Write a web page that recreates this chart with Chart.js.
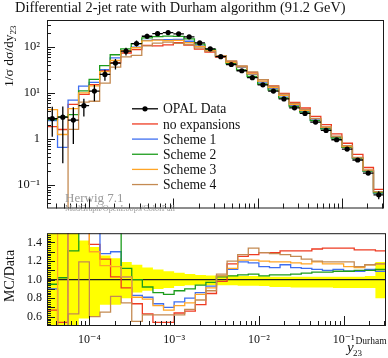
<!DOCTYPE html>
<html>
<head>
<meta charset="utf-8">
<script src="https://cdn.jsdelivr.net/npm/chart.js@4.4.1/dist/chart.umd.min.js"></script>
<style>
    html, body { margin: 0; padding: 0; background: #fff; }
    body { width: 388px; height: 358px; position: relative; overflow: hidden; }
    canvas { position: absolute; left: 0; }
    #mainCanvas { top: 0; }
    #ratioCanvas { top: 221px; }
</style>
</head>
<body>
<canvas id="mainCanvas" width="388" height="223"></canvas>
<canvas id="ratioCanvas" width="388" height="137"></canvas>
<script>
// bin edges of y23 (8 bins per decade, 10^-4.5 .. 10^-0.5)
const binEdges = [
    3.1623e-5, 4.2170e-5, 5.6234e-5, 7.4989e-5,
    1.0e-4, 1.3335e-4, 1.7783e-4, 2.3714e-4, 3.1623e-4, 4.2170e-4, 5.6234e-4, 7.4989e-4,
    1.0e-3, 1.3335e-3, 1.7783e-3, 2.3714e-3, 3.1623e-3, 4.2170e-3, 5.6234e-3, 7.4989e-3,
    1.0e-2, 1.3335e-2, 1.7783e-2, 2.3714e-2, 3.1623e-2, 4.2170e-2, 5.6234e-2, 7.4989e-2,
    1.0e-1, 1.3335e-1, 1.7783e-1, 2.3714e-1, 3.1623e-1
];

// OPAL data, 1/sigma dsigma/dy23
const opalData = [2.8, 3.0, 2.6, 5.35, 11.1, 25.5, 45, 82, 120, 173, 197, 208, 195, 168, 124, 92,
    62, 42, 30.7, 21.7, 15.2, 11.1, 7.5, 4.8, 3.63, 2.35, 1.55, 0.97, 0.607, 0.352, 0.183, 0.0615];
// relative errors (up / down)
const opalErrUp = [0.8, 0.7, 0.9, 0.42, 0.35, 0.26, 0.23, 0.19, 0.16, 0.13, 0.11, 0.09, 0.075, 0.06, 0.05, 0.045,
    0.045, 0.045, 0.04, 0.04, 0.035, 0.03, 0.03, 0.03, 0.03, 0.03, 0.03, 0.03, 0.03, 0.03, 0.04, 0.19];
const opalErrDown = [0.6, 0.9, 0.7, 0.42, 0.4, 0.27, 0.27, 0.2, 0.14, 0.12, 0.1, 0.09, 0.07, 0.06, 0.055, 0.06,
    0.06, 0.06, 0.065, 0.065, 0.07, 0.08, 0.08, 0.085, 0.085, 0.085, 0.085, 0.09, 0.09, 0.09, 0.09, 0.2];

// MC / Data per bin
const ratioNoExp = [0.67, 0.54, 2.2, 1.75, 1.38, 1.22, 1.03, 0.91, 0.74, 0.63, 0.54, 0.54, 0.64, 0.66, 0.73, 0.85,
    0.98, 1.17, 1.25, 1.27, 1.29, 1.29, 1.31, 1.31, 1.31, 1.33, 1.34, 1.34, 1.34, 1.32, 1.32, 1.31];
const ratioScheme1 = [0.9, 0.22, 2.7, 2.67, 1.55, 1.28, 1.3, 1.03, 0.83, 0.81, 0.74, 0.7, 0.76, 0.8, 0.86, 0.93,
    1.04, 1.11, 1.19, 1.18, 1.14, 1.13, 1.16, 1.13, 1.12, 1.11, 1.1, 1.11, 1.09, 1.09, 1.11, 1.09];
const ratioScheme2 = [0.95, 1.02, 1.31, 2.1, 1.8, 1.55, 1.52, 1.12, 1.0, 0.92, 0.86, 0.84, 0.88, 0.9, 0.94, 0.97,
    1.03, 1.04, 1.05, 1.06, 1.04, 1.05, 1.05, 1.06, 1.07, 1.08, 1.08, 1.09, 1.09, 1.1, 1.1, 1.11];
const ratioScheme3 = [1.57, 0.42, 1.77, 1.9, 1.3, 1.15, 1.14, 1.03, 0.81, 0.79, 0.72, 0.67, 0.72, 0.75, 0.84, 0.91,
    1.04, 1.12, 1.21, 1.21, 1.2, 1.19, 1.19, 1.18, 1.17, 1.19, 1.17, 1.17, 1.14, 1.13, 1.16, 1.17];
const ratioScheme4 = [0, 0, 0.63, 1.19, 0.6, 0.65, 0.82, 0.75, 0.55, 0.62, 0.62, 0.62, 0.62, 0.68, 0.78, 0.88,
    1.06, 1.2, 1.27, 1.34, 1.29, 1.28, 1.27, 1.25, 1.22, 1.2, 1.19, 1.19, 1.19, 1.14, 1.16, 1.17];

const seriesNames = ['no expansions', 'Scheme 1', 'Scheme 2', 'Scheme 3', 'Scheme 4'];
const seriesRatios = [ratioNoExp, ratioScheme1, ratioScheme2, ratioScheme3, ratioScheme4];
const seriesColors = ['#ee3b22', '#3f6ff0', '#1c9c1c', '#ffa526', '#c48a52'];

const yMainTicks = [0.1, 1, 10, 100];
const yMainLabels = ['10⁻¹', '1', '10¹', '10²'];
const xTicks = [1e-4, 1e-3, 1e-2, 1e-1];
const xTickLabels = ['10⁻⁴', '10⁻³', '10⁻²', '10⁻¹'];
const yRatioTicks = [0.6, 0.7, 0.8, 0.9, 1.0, 1.1, 1.2, 1.3, 1.4];

const serif = "'Liberation Serif', 'DejaVu Serif', serif";
Chart.defaults.font.family = serif;
Chart.defaults.color = '#111';

function stepPoints(values) {
    let pts = [];
    values.forEach((v, i) => {
        pts.push({x: binEdges[i], y: v});
        pts.push({x: binEdges[i + 1], y: v});
    });
    return pts;
}

const binCentres = opalData.map((v, i) => Math.sqrt(binEdges[i] * binEdges[i + 1]));

function errorBarPoints() {
    let pts = [];
    opalData.forEach((v, i) => {
        let c = binCentres[i];
        pts.push({x: c, y: v * (1 - opalErrDown[i])}, {x: c, y: v * (1 + opalErrUp[i])}, {x: c, y: null});
        pts.push({x: binEdges[i], y: v}, {x: binEdges[i + 1], y: v}, {x: c, y: null});
    });
    return pts;
}

// minor tick positions
let xMinor = [];
for (let d = -5; d <= -1; d++) {
    for (let m = 2; m <= 9; m++) {
        let v = m * Math.pow(10, d);
        if (v > binEdges[0] && v < binEdges[32]) xMinor.push(v);
    }
}
let yMinorMain = [];
for (let d = -2; d <= 2; d++) {
    for (let m = 2; m <= 9; m++) yMinorMain.push(m * Math.pow(10, d));
}
let yMinorRatio = [];
for (let k = 26; k <= 74; k++) yMinorRatio.push(k * 0.02);

function frameTicks(cfg) {
    return {
        id: 'frameTicks',
        afterDatasetsDraw(chart) {
            const {ctx, chartArea: a} = chart;
            const xs = chart.scales.x, ys = chart.scales.y;
            ctx.save();
            ctx.strokeStyle = '#1a1a1a';
            ctx.lineWidth = 1;
            ctx.beginPath();
            const xt = (v, len) => {
                let p = Math.round(xs.getPixelForValue(v)) + 0.5;
                if (p < a.left || p > a.right) return;
                ctx.moveTo(p, a.bottom); ctx.lineTo(p, a.bottom - len);
            };
            const yt = (v, len) => {
                let p = Math.round(ys.getPixelForValue(v)) + 0.5;
                if (p < a.top || p > a.bottom) return;
                ctx.moveTo(a.left, p); ctx.lineTo(a.left + len, p);
            };
            xTicks.forEach(v => xt(v, 10));
            xMinor.forEach(v => xt(v, 5));
            cfg.yMajor.forEach(v => yt(v, 8));
            cfg.yMinor.forEach(v => yt(v, 4));
            ctx.stroke();
            ctx.strokeRect(a.left + 0.5, a.top + 0.5, a.right - a.left - 1, a.bottom - a.top - 1);
            ctx.restore();
        }
    };
}

const mainTexts = {
    id: 'mainTexts',
    afterDraw(chart) {
        const ctx = chart.ctx;
        ctx.save();
        ctx.fillStyle = '#111';
        ctx.font = '14.4px ' + serif;
        ctx.textBaseline = 'alphabetic';
        ctx.fillText('Differential 2-jet rate with Durham algorithm (91.2 GeV)', 15, 11.5);

        // y axis label
        ctx.save();
        ctx.translate(13, 87);
        ctx.rotate(-Math.PI / 2);
        ctx.font = '13.5px ' + serif;
        let t = '1/σ dσ/dy';
        ctx.fillText(t, 0, 0);
        let w = ctx.measureText(t).width;
        ctx.font = '9px ' + serif;
        ctx.fillText('23', w, 3);
        ctx.restore();

        // generator labels
        ctx.fillStyle = '#999';
        ctx.font = '13px ' + serif;
        ctx.fillText('Herwig 7.1', 65, 202);
        ctx.font = '8.2px ' + serif;
        ctx.fillText('MadGraph/OpenLoops/ColorFull', 65, 211);

        // legend
        const rowY = i => 108.8 + 15.15 * i;
        ctx.lineWidth = 1.3;
        ctx.strokeStyle = '#000';
        ctx.beginPath(); ctx.moveTo(132, rowY(0)); ctx.lineTo(158, rowY(0)); ctx.stroke();
        ctx.fillStyle = '#000';
        ctx.beginPath(); ctx.arc(145, rowY(0), 2.6, 0, 2 * Math.PI); ctx.fill();
        seriesNames.forEach((n, i) => {
            ctx.strokeStyle = seriesColors[i];
            ctx.beginPath(); ctx.moveTo(132, rowY(i + 1)); ctx.lineTo(158, rowY(i + 1)); ctx.stroke();
        });
        ctx.fillStyle = '#111';
        ctx.font = '13.6px ' + serif;
        ['OPAL Data'].concat(seriesNames).forEach((n, i) => {
            ctx.fillText(n, 163, rowY(i) + 4.6);
        });
        ctx.restore();
    }
};

const ratioTexts = {
    id: 'ratioTexts',
    afterDraw(chart) {
        const ctx = chart.ctx;
        ctx.save();
        ctx.fillStyle = '#111';
        ctx.save();
        ctx.translate(14, 81);
        ctx.rotate(-Math.PI / 2);
        ctx.font = '14px ' + serif;
        ctx.fillText('MC/Data', 0, 0);
        ctx.restore();
        // x axis label
        ctx.font = 'italic 15px ' + serif;
        ctx.fillText('y', 347, 131);
        ctx.font = '9px ' + serif;
        ctx.fillText('23', 353, 135);
        ctx.font = '9.5px ' + serif;
        ctx.fillText('Durham', 355.5, 123);
        ctx.restore();
    }
};

let mainDatasets = [{
    data: binCentres.map((c, i) => ({x: c, y: opalData[i]})),
    showLine: false, pointRadius: 2.6, pointBackgroundColor: '#000', pointBorderWidth: 0
}, {
    data: errorBarPoints(), borderColor: '#000', borderWidth: 1.3, pointRadius: 0, spanGaps: false
}];
for (let k = seriesNames.length - 1; k >= 0; k--) {
    mainDatasets.push({
        label: seriesNames[k],
        data: stepPoints(opalData.map((v, i) => Math.max(v * seriesRatios[k][i], 1e-6))),
        borderColor: seriesColors[k], borderWidth: 1.3, pointRadius: 0, tension: 0
    });
}

let ratioDatasets = [];
for (let k = seriesNames.length - 1; k >= 0; k--) {
    ratioDatasets.push({
        label: seriesNames[k],
        data: stepPoints(seriesRatios[k]),
        borderColor: seriesColors[k], borderWidth: 1.3, pointRadius: 0, tension: 0
    });
}
ratioDatasets.push({
    data: [{x: binEdges[0], y: 1}, {x: binEdges[32], y: 1}],
    borderColor: '#222', borderWidth: 1.2, pointRadius: 0
});
ratioDatasets.push({
    data: stepPoints(opalErrUp.map(e => 1 + e)),
    borderWidth: 0, pointRadius: 0, fill: '+1', backgroundColor: '#ffff00'
});
ratioDatasets.push({
    data: stepPoints(opalErrDown.map(e => 1 - e)),
    borderWidth: 0, pointRadius: 0
});

const commonX = {
    type: 'logarithmic', min: binEdges[0], max: binEdges[32],
    grid: {display: false, drawTicks: false}, border: {display: false}
};

new Chart(document.getElementById('mainCanvas').getContext('2d'), {
    type: 'line',
    data: {datasets: mainDatasets},
    options: {
        responsive: false, animation: false,
        layout: {padding: {left: 0, top: 20, right: 2, bottom: 1}},
        plugins: {legend: {display: false}, tooltip: {enabled: false}},
        scales: {
            x: Object.assign({}, commonX, {display: false}),
            y: {
                type: 'logarithmic', min: 0.031, max: 390,
                grid: {display: false, drawTicks: false}, border: {display: false},
                afterFit: s => { s.width = 47; },
                afterBuildTicks: s => { s.ticks = yMainTicks.map(v => ({value: v})); },
                ticks: {
                    padding: 7, font: {size: 12.5},
                    callback: v => yMainLabels[yMainTicks.indexOf(v)]
                }
            }
        }
    },
    plugins: [frameTicks({yMajor: yMainTicks, yMinor: yMinorMain}), mainTexts]
});

new Chart(document.getElementById('ratioCanvas').getContext('2d'), {
    type: 'line',
    data: {datasets: ratioDatasets},
    options: {
        responsive: false, animation: false,
        layout: {padding: {left: 0, top: 1, right: 2, bottom: 0}},
        plugins: {legend: {display: false}, tooltip: {enabled: false}},
        scales: {
            x: Object.assign({}, commonX, {
                afterFit: s => { s.height = 32; },
                afterBuildTicks: s => { s.ticks = xTicks.map(v => ({value: v})); },
                ticks: {
                    padding: 7, font: {size: 12}, maxRotation: 0, autoSkip: false,
                    callback: v => xTickLabels[xTicks.indexOf(v)]
                }
            }),
            y: {
                type: 'linear', min: 0.5, max: 1.5,
                grid: {display: false, drawTicks: false}, border: {display: false},
                afterFit: s => { s.width = 47; },
                afterBuildTicks: s => { s.ticks = yRatioTicks.map(v => ({value: v})); },
                ticks: {padding: 5, font: {size: 12}, callback: v => v.toFixed(1)}
            }
        }
    },
    plugins: [frameTicks({yMajor: yRatioTicks, yMinor: yMinorRatio}), ratioTexts]
});
</script>
</body>
</html>
